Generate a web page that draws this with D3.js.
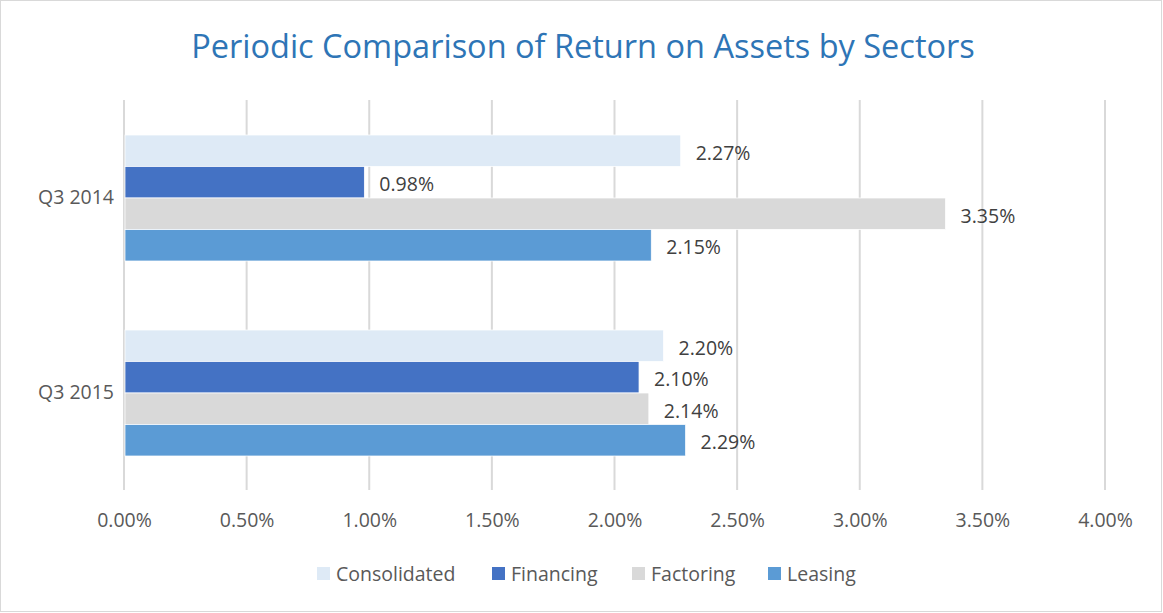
<!DOCTYPE html>
<html>
<head>
<meta charset="utf-8">
<script src="https://cdn.jsdelivr.net/npm/d3@7"></script>
<style>
    body { margin: 0; background: #fff; }
    text { font-family: "Open Sans", sans-serif; }
</style>
</head>
<body>
<div id="chart1-container"></div>
<script>
// HORIZONTAL GROUPED BAR CHART

// Data

var periods = ["Q3 2014", "Q3 2015"];
var sectors = ["Consolidated", "Financing", "Factoring", "Leasing"];
var consolidated = [2.27, 2.20];
var financing = [0.98, 2.10];
var factoring = [3.35, 2.14];
var leasing = [2.15, 2.29];
var xTicks = [0, 0.5, 1, 1.5, 2, 2.5, 3, 3.5, 4];

var colours = ["#deeaf6", "#4472c4", "#d9d9d9", "#5b9bd5"];
var seriesValues = [consolidated, financing, factoring, leasing];

// Chart variables

var W = 1163, H = 613;
var margin = {top: 100, right: 58, bottom: 123, left: 124};
var width = W - margin.left - margin.right;
var height = H - margin.top - margin.bottom;
var fontSize = "19.5px";

var svg = d3.select("#chart1-container")
    .append("svg")
    .attr("width", W)
    .attr("height", H);

svg.append("rect")                              // Outer border
    .attr("x", 0.5).attr("y", 0.5)
    .attr("width", W - 2).attr("height", H - 2)
    .attr("fill", "#fff")
    .attr("stroke", "#d9d9d9");

svg.append("text")                              // Title
    .attr("x", 583)
    .attr("y", 58)
    .attr("text-anchor", "middle")
    .attr("font-size", "32.5px")
    .attr("fill", "#2e75b6")
    .text("Periodic Comparison of Return on Assets by Sectors");

var chart1 = svg.append("g")
    .attr("transform", "translate(" + margin.left + "," + margin.top + ")");

// Scales

var xScale = d3.scaleLinear()
    .domain([0, 4])
    .range([0, width]);

var yScale = d3.scaleBand()
    .domain(periods)
    .range([0, height])
    .paddingInner(0)
    .paddingOuter(0);

var inner = d3.scaleBand()
    .domain(sectors)
    .range([35, yScale.bandwidth() - 34]);

// Gridlines

chart1.selectAll(".grid")
    .data(xTicks)
    .enter()
    .append("line")
    .attr("x1", function(d) { return xScale(d); })
    .attr("x2", function(d) { return xScale(d); })
    .attr("y1", 0)
    .attr("y2", height)
    .attr("stroke", "#d9d9d9")
    .attr("stroke-width", 2);

// Bars

var rows = [];
periods.forEach(function(p, i) {
    sectors.forEach(function(s, j) {
        rows.push({period: p, sector: s, value: seriesValues[j][i], colour: colours[j]});
    });
});

chart1.selectAll("rect.bar")
    .data(rows)
    .enter()
    .append("rect")
    .attr("class", "bar")
    .attr("x", xScale(0) + 1)
    .attr("y", function(d) { return yScale(d.period) + inner(d.sector); })
    .attr("width", function(d) { return xScale(d.value) - 1; })
    .attr("height", inner.bandwidth())
    .attr("fill", function(d) { return d.colour; })
    .attr("stroke", "#fff")
    .attr("stroke-width", 0.75);

// Data labels

chart1.selectAll("text.label")
    .data(rows)
    .enter()
    .append("text")
    .attr("class", "label")
    .attr("x", function(d) { return xScale(d.value) + 15; })
    .attr("y", function(d) { return yScale(d.period) + inner(d.sector) + inner.bandwidth() / 2 + 2; })
    .attr("dy", "0.35em")
    .attr("font-size", fontSize)
    .attr("fill", "#404040")
    .text(function(d) { return d.value.toFixed(2) + "%"; });

// Axes

var xAxis = d3.axisBottom(xScale)
    .tickValues(xTicks)
    .tickSize(0)
    .tickPadding(23)
    .tickFormat(function(d) { return d.toFixed(2) + "%"; });

var yAxis = d3.axisLeft(yScale)
    .tickSize(0)
    .tickPadding(10);

var gx = chart1.append("g")
    .attr("transform", "translate(0," + height + ")")
    .call(xAxis);

var gy = chart1.append("g")
    .call(yAxis);

[gx, gy].forEach(function(g) {
    g.select(".domain").remove();
    g.selectAll("text")
        .attr("font-size", fontSize)
        .attr("font-family", "'Open Sans', sans-serif")
        .attr("fill", "#595959");
});

// Legend

var legendX = [317, 492, 632, 768];

var legend = svg.selectAll("g.legend")
    .data(sectors)
    .enter()
    .append("g")
    .attr("class", "legend")
    .attr("transform", function(d, i) { return "translate(" + legendX[i] + ",567)"; });

legend.append("rect")
    .attr("width", 13)
    .attr("height", 13)
    .attr("fill", function(d, i) { return colours[i]; });

legend.append("text")
    .attr("x", 19)
    .attr("y", 7)
    .attr("dy", "0.35em")
    .attr("font-size", fontSize)
    .attr("fill", "#595959")
    .text(function(d) { return d; });

</script>
</body>
</html>
